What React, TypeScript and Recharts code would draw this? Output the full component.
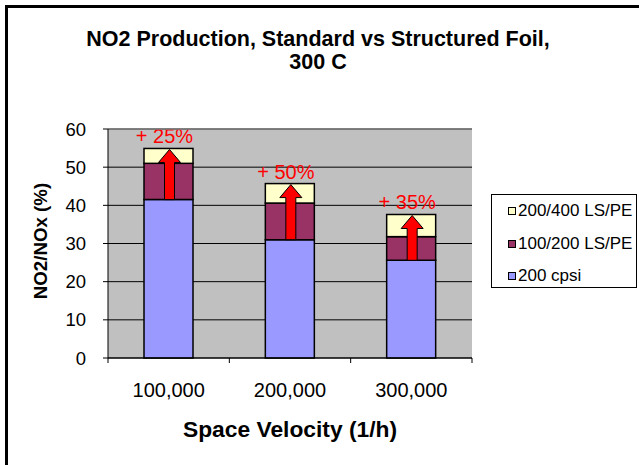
import { BarChart, Bar, XAxis, YAxis, CartesianGrid, ReferenceLine } from 'recharts';

const categories = ['100,000', '200,000', '300,000'];
const cpsi200 = [41.5, 31, 25.6];
const ls100200 = [9.5, 9.6, 6.2];
const ls200400 = [3.9, 5.1, 5.8];
const gainLabels = ['+ 25%', '+ 50%', '+ 35%'];
const yTicks = [0, 10, 20, 30, 40, 50, 60];

const seriesInfo = [
    { key: 'ls200400', name: '200/400 LS/PE', color: '#FFFFCC' },
    { key: 'ls100200', name: '100/200 LS/PE', color: '#993366' },
    { key: 'cpsi200', name: '200 cpsi', color: '#9999FF' },
];

const data = categories.map((name, i) => ({
    name,
    cpsi200: cpsi200[i],
    ls100200: ls100200[i],
    ls200400: ls200400[i],
    gain: gainLabels[i],
}));

const FONT = '"Liberation Sans", Arial, sans-serif';
const CHART_W = 639;
const CHART_H = 465;
const MARGIN = { top: 129, right: 167, bottom: 77, left: 48 };
const Y_AXIS_W = 60;
const PLOT_W = CHART_W - MARGIN.left - MARGIN.right - Y_AXIS_W;
const BAND = PLOT_W / categories.length;

// top segment: draw the box, then the red arrow and the gain label on top of it
const TopSegment = (props: any) => {
    const { x, y, width, height, payload, fill } = props;
    if (!height) return null;
    const unit = height / payload.ls200400;
    const cx = x + width / 2 + 1;
    const bottom = y + height + payload.ls100200 * unit;
    const tip = y + 1;
    const pts = [
        [cx - 5, bottom],
        [cx - 5, tip + 13],
        [cx - 11, tip + 13],
        [cx, tip],
        [cx + 11, tip + 13],
        [cx + 5, tip + 13],
        [cx + 5, bottom],
    ]
        .map((p) => p.join(','))
        .join(' ');
    return (
        <g>
            <rect x={x} y={y} width={width} height={height} fill={fill} stroke="#000" strokeWidth={1.5} />
            <polygon points={pts} fill="#FF0000" stroke="#000" strokeWidth={1} />
            <text
                x={cx - 5}
                y={y - 5}
                textAnchor="middle"
                fill="#FF0000"
                fontSize={20}
                fontFamily={FONT}
            >
                {payload.gain}
            </text>
        </g>
    );
};

const CategoryTick = (props: any) => {
    const { x, y, payload, index } = props;
    const half = BAND / 2;
    return (
        <g>
            <line x1={x - half} y1={y} x2={x - half} y2={y + 5} stroke="#000" />
            {index === categories.length - 1 && (
                <line x1={x + half} y1={y} x2={x + half} y2={y + 5} stroke="#000" />
            )}
            <text x={x} y={y + 39} textAnchor="middle" fill="#000" fontSize={20} fontFamily={FONT}>
                {payload.value}
            </text>
        </g>
    );
};

const LegendBox = () => (
    <div
        style={{
            position: 'absolute',
            left: 491,
            top: 194,
            border: '1px solid #000',
            width: 146,
            height: 94,
            boxSizing: 'border-box',
            background: '#fff',
            fontFamily: FONT,
            fontSize: 17,
            paddingTop: 0,
            whiteSpace: 'nowrap',
        }}
    >
        {seriesInfo.map((s) => (
            <div key={s.key} style={{ display: 'flex', alignItems: 'center', height: 32.5 }}>
                <span
                    style={{
                        display: 'inline-block',
                        width: 6,
                        height: 6,
                        background: s.color,
                        border: '1px solid #000',
                        marginLeft: 16,
                        marginRight: 2,
                    }}
                />
                <span>{s.name}</span>
            </div>
        ))}
    </div>
);

export default function App() {
    return (
        <div
            style={{
                position: 'absolute',
                left: 0,
                top: 0,
                width: CHART_W,
                height: CHART_H,
                overflow: 'hidden',
                background: '#fff',
                fontFamily: FONT,
            }}
        >
            <div
                style={{
                    position: 'absolute',
                    left: 5,
                    top: 5,
                    width: 700,
                    height: 600,
                    border: '3px solid #000',
                }}
            />
            <div
                style={{
                    position: 'absolute',
                    left: 0,
                    top: 28,
                    width: 636,
                    textAlign: 'center',
                    fontWeight: 'bold',
                    fontSize: 21.5,
                    lineHeight: '23px',
                }}
            >
                NO2 Production, Standard vs Structured Foil,
                <br />
                300 C
            </div>
            <div
                style={{
                    position: 'absolute',
                    left: 41 - 100,
                    top: 241 - 12,
                    width: 200,
                    height: 24,
                    lineHeight: '24px',
                    textAlign: 'center',
                    fontWeight: 'bold',
                    fontSize: 18.7,
                    transform: 'rotate(-90deg)',
                }}
            >
                NO2/NOx (%)
            </div>
            <div
                style={{
                    position: 'absolute',
                    left: 290 - 150,
                    top: 429 - 13,
                    width: 300,
                    height: 26,
                    lineHeight: '26px',
                    textAlign: 'center',
                    fontWeight: 'bold',
                    fontSize: 22.8,
                }}
            >
                Space Velocity (1/h)
            </div>
            <BarChart
                width={CHART_W}
                height={CHART_H}
                data={data}
                margin={MARGIN}
                barSize={49}
                style={{ position: 'absolute', left: 0, top: 0 }}
            >
                <CartesianGrid fill="#C0C0C0" stroke="#000" vertical={false} />
                <ReferenceLine y={60} stroke="#808080" strokeWidth={1.5} />
                <XAxis
                    dataKey="name"
                    axisLine={{ stroke: '#000' }}
                    tickLine={false}
                    tickSize={0}
                    tickMargin={0}
                    height={30}
                    tick={<CategoryTick />}
                    interval={0}
                />
                <YAxis
                    domain={[0, 60]}
                    ticks={yTicks}
                    width={Y_AXIS_W}
                    axisLine={{ stroke: '#000' }}
                    tickLine={{ stroke: '#000' }}
                    tickSize={5}
                    tickMargin={17}
                    tick={{ fill: '#000', fontSize: 18.5, fontFamily: FONT }}
                    interval={0}
                />
                <YAxis
                    yAxisId="edge"
                    orientation="right"
                    width={0}
                    tick={false}
                    tickLine={false}
                    axisLine={{ stroke: '#808080', strokeWidth: 1.5 }}
                />
                <Bar
                    dataKey="cpsi200"
                    name="200 cpsi"
                    stackId="a"
                    fill="#9999FF"
                    stroke="#000"
                    strokeWidth={1.5}
                    isAnimationActive={false}
                />
                <Bar
                    dataKey="ls100200"
                    name="100/200 LS/PE"
                    stackId="a"
                    fill="#993366"
                    stroke="#000"
                    strokeWidth={1.5}
                    isAnimationActive={false}
                />
                <Bar
                    dataKey="ls200400"
                    name="200/400 LS/PE"
                    stackId="a"
                    fill="#FFFFCC"
                    shape={<TopSegment />}
                    isAnimationActive={false}
                />
            </BarChart>
            <LegendBox />
        </div>
    );
}
